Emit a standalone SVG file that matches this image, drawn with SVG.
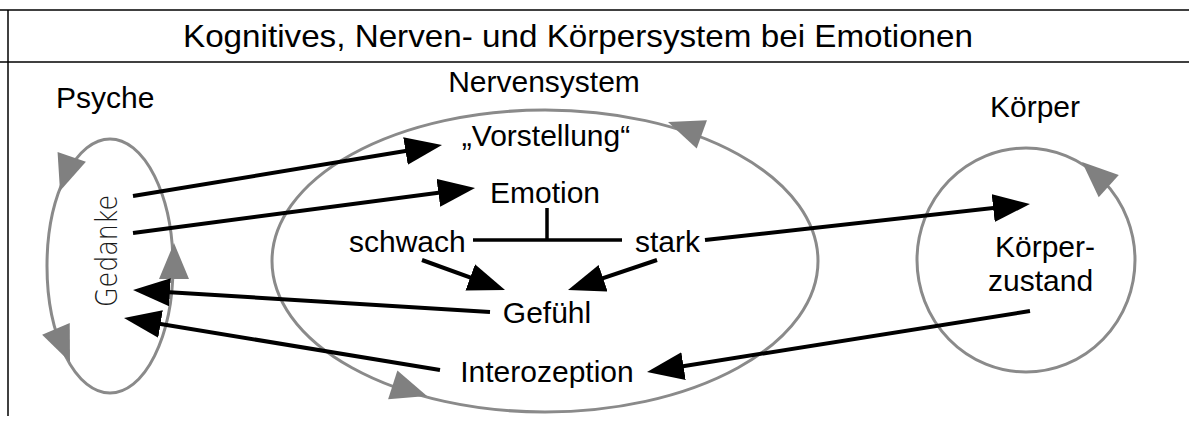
<svg xmlns="http://www.w3.org/2000/svg" width="1189" height="426" viewBox="0 0 1189 426">
  <style>
    .frame { stroke: #000; stroke-width: 1.5; fill: none; }
    .title { font-family: "Liberation Sans", Arial, sans-serif; font-size: 32px; fill: #000; }
    .lbl { font-family: "Liberation Sans", Arial, Helvetica, sans-serif; font-size: 30px; fill: #000; }
    .thin { font-family: "DejaVu Sans", sans-serif; font-weight: 200; font-size: 31px; fill: #1a1a1a; }
    .ring { fill: none; stroke: #8a8a8a; stroke-width: 3; }
    .ghead { fill: #808080; }
    .link { fill: none; stroke: #000; stroke-width: 4; marker-end: url(#bhead); }
    .tree { fill: none; stroke: #000; stroke-width: 3.5; }
  </style>
  <defs>
    <!-- black arrowhead, tip 8px beyond the line end -->
    <marker id="bhead" markerUnits="userSpaceOnUse" markerWidth="42" markerHeight="32" refX="29" refY="14" orient="auto">
      <path d="M0,0 L37,14 L0,28 Z" fill="#000"/>
    </marker>
    <!-- grey flow arrowhead, tip at origin pointing along +x -->
    <path id="gh" d="M0,0 L-36,-15 L-36,15 Z"/>
  </defs>

  <!-- frame and title bar -->
  <g id="frame">
    <line class="frame" x1="0" y1="10" x2="1189" y2="10"/>
    <line class="frame" x1="0" y1="62" x2="1189" y2="62"/>
    <line class="frame" x1="8" y1="10" x2="8" y2="416"/>
    <text class="title" x="578" y="47" text-anchor="middle" textLength="790" lengthAdjust="spacingAndGlyphs">Kognitives, Nerven- und Körpersystem bei Emotionen</text>
  </g>

  <!-- Psyche -->
  <g id="psyche">
    <text class="lbl" x="56" y="108">Psyche</text>
    <ellipse class="ring" cx="110" cy="266" rx="63" ry="127"/>
    <use href="#gh" class="ghead" transform="translate(60,191) rotate(109)"/>
    <use href="#gh" class="ghead" transform="translate(70,362) rotate(67)"/>
    <use href="#gh" class="ghead" transform="translate(174,243) rotate(-90)"/>
    <text class="thin" transform="translate(117,251) rotate(-90)" text-anchor="middle" textLength="112" lengthAdjust="spacingAndGlyphs">Gedanke</text>
  </g>

  <!-- Nervensystem -->
  <g id="nervensystem">
    <text class="lbl" x="544" y="92" text-anchor="middle">Nervensystem</text>
    <ellipse class="ring" cx="545" cy="261" rx="273" ry="151"/>
    <use href="#gh" class="ghead" transform="translate(668,122) rotate(200)"/>
    <use href="#gh" class="ghead" transform="translate(427,396) rotate(18)"/>
    <text class="lbl" x="546" y="146" text-anchor="middle">„Vorstellung“</text>
    <text class="lbl" x="545" y="203" text-anchor="middle">Emotion</text>
    <text class="lbl" x="349" y="252">schwach</text>
    <text class="lbl" x="635" y="252">stark</text>
    <text class="lbl" x="547" y="323" text-anchor="middle">Gefühl</text>
    <text class="lbl" x="547" y="382" text-anchor="middle">Interozeption</text>
    <path class="tree" d="M547,208 V240 M473,240 H622"/>
  </g>

  <!-- Körper -->
  <g id="koerper">
    <text class="lbl" x="1035" y="117" text-anchor="middle">Körper</text>
    <ellipse class="ring" cx="1026" cy="260" rx="109" ry="112"/>
    <use href="#gh" class="ghead" transform="translate(1082,162) rotate(222)"/>
    <text class="lbl" x="995" y="257">Körper-</text>
    <text class="lbl" x="988" y="291">zustand</text>
  </g>

  <!-- connectors -->
  <g id="connectors">
    <line class="link" x1="133" y1="196" x2="434.1" y2="146.3"/>
    <line class="link" x1="133" y1="233" x2="467.1" y2="189.0"/>
    <line class="link" x1="490" y1="312" x2="141.0" y2="290.5"/>
    <line class="link" x1="440" y1="370" x2="131.9" y2="319.3"/>
    <line class="link" x1="705" y1="240" x2="1022.0" y2="204.9"/>
    <line class="link" x1="1030" y1="311" x2="654.9" y2="370.7"/>
    <line class="link" x1="422" y1="260" x2="497.5" y2="287.3"/>
    <line class="link" x1="657" y1="260" x2="575.6" y2="287.4"/>
  </g>
</svg>
